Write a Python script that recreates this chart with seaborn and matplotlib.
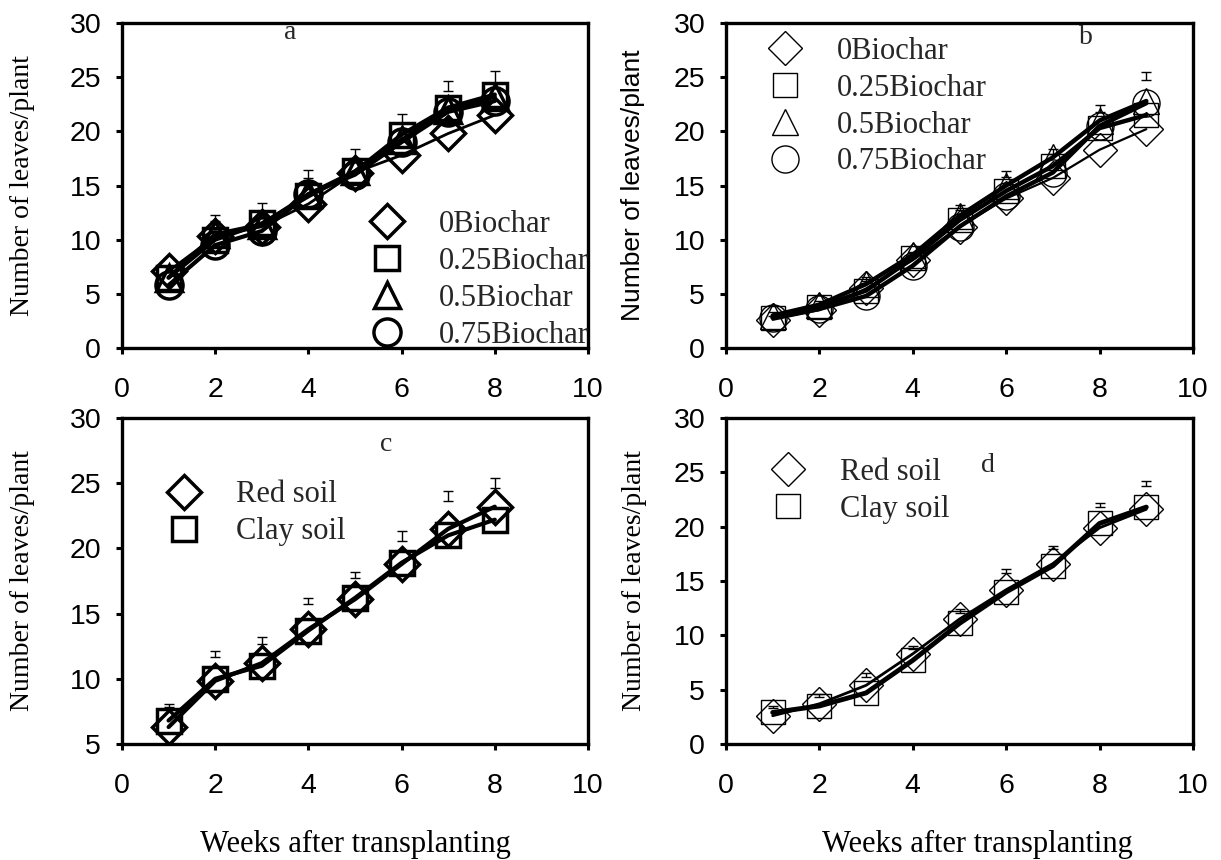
import numpy as np
import pandas as pd
import matplotlib
matplotlib.use("Agg")
import matplotlib.pyplot as plt
from matplotlib.lines import Line2D
import seaborn as sns

# ---------------- data ----------------
weeks_a = [1, 2, 3, 4, 5, 6, 7, 8]
a_0 = [7.1, 10.3, 11.2, 13.3, 16.2, 17.8, 19.8, 21.5]
a_025 = [6.5, 10.0, 11.5, 14.0, 16.3, 19.7, 22.2, 23.4]
a_05 = [6.5, 10.5, 11.4, 14.2, 16.3, 19.2, 22.0, 23.2]
a_075 = [5.8, 9.5, 10.8, 14.2, 16.0, 19.0, 21.8, 22.8]
a_err_lo = [7.0, 11.7, 12.4, 15.7, 17.5, 20.8, 23.7, 24.1]
a_err_hi = [7.5, 12.3, 13.4, 16.4, 18.4, 21.6, 24.6, 25.6]

weeks_b = [1, 2, 3, 4, 5, 6, 7, 8, 9]
b_0 = [2.6, 3.5, 5.5, 8.1, 11.2, 13.8, 15.7, 18.3, 20.2]
b_025 = [2.8, 3.8, 5.3, 8.3, 11.8, 14.5, 16.8, 20.3, 21.5]
b_05 = [3.0, 4.0, 5.9, 8.6, 12.2, 15.0, 17.6, 21.0, 22.8]
b_075 = [2.8, 3.6, 4.8, 7.6, 11.2, 14.0, 16.2, 20.5, 22.6]
b_err_lo = [3.0, 4.0, 6.2, 8.6, 12.7, 15.8, 17.9, 21.8, 24.7]
b_err_hi = [3.3, 4.3, 6.6, 8.9, 13.2, 16.3, 18.4, 22.4, 25.5]

weeks_c = [1, 2, 3, 4, 5, 6, 7, 8]
c_red = [6.3, 9.85, 11.2, 13.8, 16.1, 18.8, 21.5, 23.2]
c_clay = [6.8, 10.0, 11.0, 13.7, 16.2, 18.9, 21.0, 22.2]
c_err_lo = [7.8, 11.7, 12.7, 15.7, 17.7, 20.6, 23.6, 24.6]
c_err_hi = [8.1, 12.15, 13.2, 16.2, 18.2, 21.3, 24.4, 25.4]

weeks_d = [1, 2, 3, 4, 5, 6, 7, 8, 9]
d_red = [2.6, 3.7, 5.4, 8.3, 11.5, 14.2, 16.6, 19.9, 21.6]
d_clay = [2.9, 3.5, 4.7, 7.7, 11.1, 14.0, 16.4, 20.3, 21.8]
d_err_lo = [3.3, 4.3, 6.2, 8.7, 12.1, 15.7, 17.9, 21.8, 23.7]
d_err_hi = [3.5, 4.6, 6.5, 9.0, 12.4, 16.1, 18.2, 22.2, 24.2]

biochar_labels = ["0Biochar", "0.25Biochar", "0.5Biochar", "0.75Biochar"]
soil_labels = ["Red soil", "Clay soil"]
xlabel_text = "Weeks after transplanting"
ylabel_text = "Number of leaves/plant"
x_ticks = [0, 2, 4, 6, 8, 10]

# ---------------- style ----------------
sns.set_theme(style="white")
plt.rcParams["font.family"] = ["Liberation Sans", "DejaVu Sans"]
SERIF = ["Liberation Serif", "DejaVu Serif"]
SANS = ["Liberation Sans", "DejaVu Sans"]

fig = plt.figure(figsize=(12.21, 8.6), dpi=100)
W, H = 1221.0, 860.0


def make_ax(l, r, t, b):
    return fig.add_axes([l / W, 1 - b / H, (r - l) / W, (b - t) / H])


ax_a = make_ax(122, 588, 23, 348)
ax_b = make_ax(726, 1193, 23, 348)
ax_c = make_ax(122, 588, 418, 744)
ax_d = make_ax(726, 1193, 418, 744)

MS = {"D": 17.5, "s": 17.5, "^": 19, "o": 19.5}


def series(ax, x, y, marker, lw, mew):
    df = pd.DataFrame({"x": x, "y": y})
    sns.lineplot(data=df, x="x", y="y", ax=ax, color="black", lw=lw,
                 marker=marker, markersize=MS[marker],
                 markerfacecolor="none", markeredgecolor="black",
                 markeredgewidth=mew, errorbar=None, sort=False, zorder=3)


def errbars(ax, x, lo, hi):
    lo = np.asarray(lo, float)
    hi = np.asarray(hi, float)
    ax.errorbar(x, lo, yerr=[np.zeros_like(lo), hi - lo], fmt="none",
                ecolor="black", elinewidth=1.0, capsize=3.5, capthick=1.0,
                zorder=4)


def style_axes(ax, ylim, yticks, ylabel_family, ylabel_size, ylabel_x):
    ax.set_xlim(0, 10)
    ax.set_ylim(*ylim)
    ax.set_xticks(x_ticks)
    ax.set_yticks(yticks)
    for s in ax.spines.values():
        s.set_visible(True)
        s.set_color("black")
        s.set_linewidth(2.4)
    ax.tick_params(axis="x", which="both", bottom=True, top=False,
                   direction="out", length=4, width=2.2, pad=17,
                   labelsize=20.5, colors="black")
    ax.tick_params(axis="y", which="both", left=True, right=False,
                   direction="out", length=4, width=2.2, pad=11,
                   labelsize=20.5, colors="black")
    for lab in ax.get_xticklabels() + ax.get_yticklabels():
        lab.set_fontfamily(SANS)
    ax.set_xlabel("")
    ax.set_ylabel(ylabel_text, family=ylabel_family, fontsize=ylabel_size,
                  color="black")
    ax.yaxis.set_label_coords(ylabel_x, 0.5)
    ax.grid(False)


def legend(ax, labels, markers, mew, anchor):
    handles = [Line2D([], [], ls="none", marker=m, markersize=MS[m],
                      markerfacecolor="none", markeredgecolor="black",
                      markeredgewidth=mew) for m in markers]
    ax.legend(handles, labels, loc="upper left", bbox_to_anchor=anchor,
              frameon=False, prop={"family": SERIF, "size": 22},
              handlelength=1.4, handletextpad=1.0, labelspacing=0.26,
              borderpad=0, borderaxespad=0)


# ---- panel a ----
series(ax_a, weeks_a, a_0, "D", 2.0, 2.5)
series(ax_a, weeks_a, a_025, "s", 3.0, 2.5)
series(ax_a, weeks_a, a_05, "^", 3.0, 2.5)
series(ax_a, weeks_a, a_075, "o", 3.0, 2.5)
errbars(ax_a, weeks_a, a_err_lo, a_err_hi)
style_axes(ax_a, (0, 30), [0, 5, 10, 15, 20, 25, 30], SERIF, 20, -0.187)
legend(ax_a, biochar_labels, ["D", "s", "^", "o"], 2.5, (0.522, 0.425))
ax_a.text(0.36, 0.97, "a", transform=ax_a.transAxes, ha="center",
          va="center", family=SERIF, fontsize=20)

# ---- panel b ----
series(ax_b, weeks_b, b_0, "D", 1.6, 1.0)
series(ax_b, weeks_b, b_025, "s", 3.2, 1.0)
series(ax_b, weeks_b, b_05, "^", 3.2, 1.0)
series(ax_b, weeks_b, b_075, "o", 3.2, 1.0)
errbars(ax_b, weeks_b, b_err_lo, b_err_hi)
style_axes(ax_b, (0, 30), [0, 5, 10, 15, 20, 25, 30], SANS, 19, -0.173)
legend(ax_b, biochar_labels, ["D", "s", "^", "o"], 1.0, (0.08, 0.958))
ax_b.text(0.77, 0.955, "b", transform=ax_b.transAxes, ha="center",
          va="center", family=SERIF, fontsize=20)

# ---- panel c ----
series(ax_c, weeks_c, c_red, "D", 3.0, 2.5)
series(ax_c, weeks_c, c_clay, "s", 3.0, 2.5)
errbars(ax_c, weeks_c, c_err_lo, c_err_hi)
style_axes(ax_c, (5, 30), [5, 10, 15, 20, 25, 30], SERIF, 20, -0.187)
legend(ax_c, soil_labels, ["D", "s"], 2.5, (0.087, 0.809))
ax_c.text(0.566, 0.92, "c", transform=ax_c.transAxes, ha="center",
          va="center", family=SERIF, fontsize=20)

# ---- panel d ----
series(ax_d, weeks_d, d_red, "D", 2.0, 1.0)
series(ax_d, weeks_d, d_clay, "s", 3.5, 1.0)
errbars(ax_d, weeks_d, d_err_lo, d_err_hi)
style_axes(ax_d, (0, 30), [0, 5, 10, 15, 20, 25, 30], SERIF, 20, -0.169)
legend(ax_d, soil_labels, ["D", "s"], 1.0, (0.087, 0.877))
ax_d.text(0.56, 0.855, "d", transform=ax_d.transAxes, ha="center",
          va="center", family=SERIF, fontsize=20)

# x labels (bottom row only)
for ax, xc in ((ax_c, 355), (ax_d, 977)):
    ax.set_xlabel(xlabel_text, family=SERIF, fontsize=22, color="black")
    l = ax.get_position().x0 * W
    w = ax.get_position().width * W
    ax.xaxis.set_label_coords((xc - l) / w, (744 - 830) / 326.0)
    ax.xaxis.label.set_va("top")

fig.savefig("out.png", dpi=100)
